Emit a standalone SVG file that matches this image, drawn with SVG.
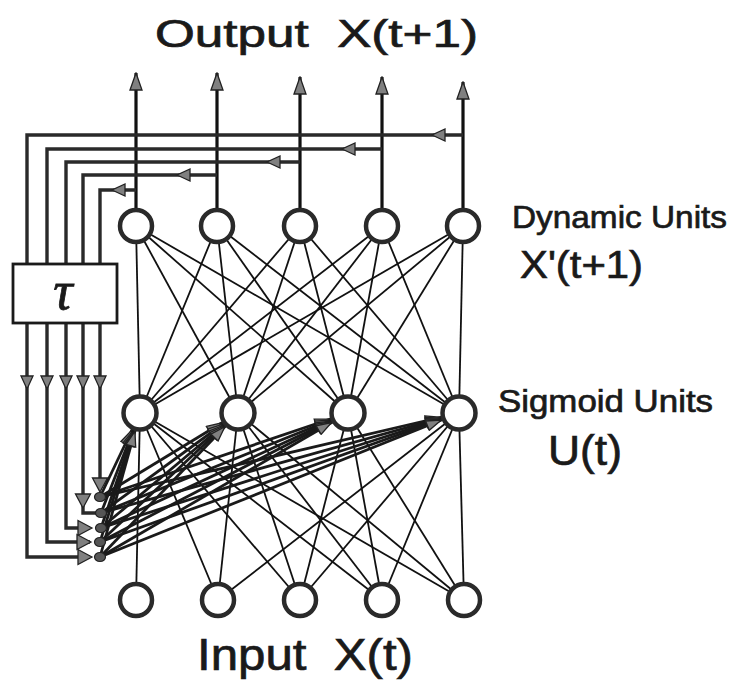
<svg xmlns="http://www.w3.org/2000/svg" xmlns:xlink="http://www.w3.org/1999/xlink" width="731" height="680" viewBox="0 0 731 680">
<style>
.thin{stroke:#111;stroke-width:1.8;fill:none}
.fb{stroke:#2a2a2a;stroke-width:3.4;fill:none;stroke-linejoin:miter}
.out{stroke:#111;stroke-width:3.2;fill:none}
.thick{stroke:#1a1a1a;stroke-width:2.8;fill:none}
.node{fill:#fff;stroke:#2a2a2a;stroke-width:4.5}
.dot{fill:#555;stroke:#222;stroke-width:1.2}
.ah{fill:#808080;stroke:#222;stroke-width:1.3;stroke-linejoin:miter}
.lbl{font-family:"Liberation Sans",Arial,sans-serif;fill:#1a1a1a;stroke:#1a1a1a;stroke-width:0.7}
</style>
<defs>
<marker id="mOut" markerUnits="userSpaceOnUse" markerWidth="19" markerHeight="14" refX="18" refY="7" orient="auto">
<path class="ah" d="M1,1 L18,7 L1,13 z"/>
</marker>
<marker id="mIn" markerUnits="userSpaceOnUse" markerWidth="17" markerHeight="12" refX="35" refY="6" orient="auto">
<path class="ah" d="M1,1 L16,6 L1,11 z"/>
</marker>
<path id="fa" class="ah" d="M0,0 L-13,-6 L-13,6 z"/>
<path id="fa2" class="ah" d="M0,0 L-14,-7.5 L-14,7.5 z"/>
</defs>

<g id="connectors">
<g id="dyn-sig">
<line class="thin" x1="136" y1="226" x2="140" y2="413"/><line class="thin" x1="136" y1="226" x2="238" y2="413"/><line class="thin" x1="136" y1="226" x2="348" y2="413"/><line class="thin" x1="136" y1="226" x2="459" y2="413"/>
<line class="thin" x1="217" y1="226" x2="140" y2="413"/><line class="thin" x1="217" y1="226" x2="238" y2="413"/><line class="thin" x1="217" y1="226" x2="348" y2="413"/><line class="thin" x1="217" y1="226" x2="459" y2="413"/>
<line class="thin" x1="300" y1="226" x2="140" y2="413"/><line class="thin" x1="300" y1="226" x2="238" y2="413"/><line class="thin" x1="300" y1="226" x2="348" y2="413"/><line class="thin" x1="300" y1="226" x2="459" y2="413"/>
<line class="thin" x1="382" y1="226" x2="140" y2="413"/><line class="thin" x1="382" y1="226" x2="238" y2="413"/><line class="thin" x1="382" y1="226" x2="348" y2="413"/><line class="thin" x1="382" y1="226" x2="459" y2="413"/>
<line class="thin" x1="463" y1="226" x2="140" y2="413"/><line class="thin" x1="463" y1="226" x2="238" y2="413"/><line class="thin" x1="463" y1="226" x2="348" y2="413"/><line class="thin" x1="463" y1="226" x2="459" y2="413"/>
</g>
<g id="in-sig">
<line class="thin" x1="136" y1="600" x2="140" y2="413"/>
<line class="thin" x1="218" y1="600" x2="140" y2="413"/><line class="thin" x1="218" y1="600" x2="238" y2="413"/><line class="thin" x1="218" y1="600" x2="459" y2="413"/>
<line class="thin" x1="300" y1="600" x2="140" y2="413"/><line class="thin" x1="300" y1="600" x2="238" y2="413"/><line class="thin" x1="300" y1="600" x2="348" y2="413"/><line class="thin" x1="300" y1="600" x2="459" y2="413"/>
<line class="thin" x1="382" y1="600" x2="140" y2="413"/><line class="thin" x1="382" y1="600" x2="238" y2="413"/><line class="thin" x1="382" y1="600" x2="348" y2="413"/><line class="thin" x1="382" y1="600" x2="459" y2="413"/>
<line class="thin" x1="464" y1="600" x2="140" y2="413"/><line class="thin" x1="464" y1="600" x2="238" y2="413"/><line class="thin" x1="464" y1="600" x2="348" y2="413"/><line class="thin" x1="464" y1="600" x2="459" y2="413"/>
</g>
<g id="outputs">
<line class="out" x1="136" y1="210" x2="136" y2="73" marker-end="url(#mOut)"/>
<line class="out" x1="217" y1="210" x2="217" y2="73" marker-end="url(#mOut)"/>
<line class="out" x1="300" y1="210" x2="300" y2="77" marker-end="url(#mOut)"/>
<line class="out" x1="382" y1="210" x2="382" y2="77" marker-end="url(#mOut)"/>
<line class="out" x1="463" y1="210" x2="463" y2="82" marker-end="url(#mOut)"/>
</g>
<g id="feedback">
<path class="fb" d="M463,135 H27 V557 H90"/>
<path class="fb" d="M382,149 H47 V542 H90"/>
<path class="fb" d="M300,162 H66 V528 H90"/>
<path class="fb" d="M217,175 H83 V513 H96"/>
<path class="fb" d="M136,190 H100 V490"/>
<use xlink:href="#fa" href="#fa" transform="translate(432,135) rotate(180)"/>
<use xlink:href="#fa" href="#fa" transform="translate(342,149) rotate(180)"/>
<use xlink:href="#fa" href="#fa" transform="translate(267,162) rotate(180)"/>
<use xlink:href="#fa" href="#fa" transform="translate(177,175) rotate(180)"/>
<use xlink:href="#fa" href="#fa" transform="translate(112,190) rotate(180)"/>
<use xlink:href="#fa" href="#fa" transform="translate(27,389) rotate(90)"/>
<use xlink:href="#fa" href="#fa" transform="translate(47,389) rotate(90)"/>
<use xlink:href="#fa" href="#fa" transform="translate(66,389) rotate(90)"/>
<use xlink:href="#fa" href="#fa" transform="translate(83,389) rotate(90)"/>
<use xlink:href="#fa" href="#fa" transform="translate(100,389) rotate(90)"/>
<use xlink:href="#fa2" href="#fa2" transform="translate(100,492) rotate(90)"/>
<use xlink:href="#fa2" href="#fa2" transform="translate(83,508) rotate(90)"/>
<use xlink:href="#fa2" href="#fa2" transform="translate(92,528)"/>
<use xlink:href="#fa2" href="#fa2" transform="translate(91,542)"/>
<use xlink:href="#fa2" href="#fa2" transform="translate(92,557)"/>
</g>
<g id="ctx-sig">
<line class="thick" x1="100" y1="497" x2="140" y2="413" marker-end="url(#mIn)"/><line class="thick" x1="100" y1="497" x2="238" y2="413" marker-end="url(#mIn)"/><line class="thick" x1="100" y1="497" x2="348" y2="413" marker-end="url(#mIn)"/><line class="thick" x1="100" y1="497" x2="459" y2="413" marker-end="url(#mIn)"/>
<line class="thick" x1="101" y1="513" x2="140" y2="413" marker-end="url(#mIn)"/><line class="thick" x1="101" y1="513" x2="238" y2="413" marker-end="url(#mIn)"/><line class="thick" x1="101" y1="513" x2="348" y2="413" marker-end="url(#mIn)"/><line class="thick" x1="101" y1="513" x2="459" y2="413" marker-end="url(#mIn)"/>
<line class="thick" x1="101" y1="528" x2="140" y2="413" marker-end="url(#mIn)"/><line class="thick" x1="101" y1="528" x2="238" y2="413" marker-end="url(#mIn)"/><line class="thick" x1="101" y1="528" x2="348" y2="413" marker-end="url(#mIn)"/><line class="thick" x1="101" y1="528" x2="459" y2="413" marker-end="url(#mIn)"/>
<line class="thick" x1="100" y1="542" x2="140" y2="413" marker-end="url(#mIn)"/><line class="thick" x1="100" y1="542" x2="238" y2="413" marker-end="url(#mIn)"/><line class="thick" x1="100" y1="542" x2="348" y2="413" marker-end="url(#mIn)"/><line class="thick" x1="100" y1="542" x2="459" y2="413" marker-end="url(#mIn)"/>
<line class="thick" x1="100" y1="557" x2="140" y2="413" marker-end="url(#mIn)"/><line class="thick" x1="100" y1="557" x2="238" y2="413" marker-end="url(#mIn)"/><line class="thick" x1="100" y1="557" x2="348" y2="413" marker-end="url(#mIn)"/><line class="thick" x1="100" y1="557" x2="459" y2="413" marker-end="url(#mIn)"/>
</g>
</g>

<g id="tau">
<rect x="13" y="264" width="104" height="59" fill="#fff" stroke="#1a1a1a" stroke-width="2.8"/>
<text x="63" y="309" text-anchor="middle" font-family="'Liberation Serif','DejaVu Serif',serif" font-style="italic" font-size="54" fill="#1a1a1a" stroke="#1a1a1a" stroke-width="0.8">τ</text>
</g>

<g id="context-dots">
<ellipse class="dot" cx="100" cy="497" rx="5.5" ry="4.5"/>
<ellipse class="dot" cx="101" cy="513" rx="5.5" ry="4.5"/>
<ellipse class="dot" cx="101" cy="528" rx="5.5" ry="4.5"/>
<ellipse class="dot" cx="100" cy="542" rx="5.5" ry="4.5"/>
<ellipse class="dot" cx="100" cy="557" rx="5.5" ry="4.5"/>
</g>

<g id="dynamic-units">
<g id="D1"><circle class="node" cx="136" cy="226" r="16"/></g>
<g id="D2"><circle class="node" cx="217" cy="226" r="16"/></g>
<g id="D3"><circle class="node" cx="300" cy="226" r="16"/></g>
<g id="D4"><circle class="node" cx="382" cy="226" r="16"/></g>
<g id="D5"><circle class="node" cx="463" cy="226" r="16"/></g>
</g>
<g id="sigmoid-units">
<g id="S1"><circle class="node" cx="140" cy="413" r="16.5"/></g>
<g id="S2"><circle class="node" cx="238" cy="413" r="16.5"/></g>
<g id="S3"><circle class="node" cx="348" cy="413" r="16.5"/></g>
<g id="S4"><circle class="node" cx="459" cy="413" r="16.5"/></g>
</g>
<g id="input-units">
<g id="I1"><circle class="node" cx="136" cy="600" r="16"/></g>
<g id="I2"><circle class="node" cx="218" cy="600" r="16"/></g>
<g id="I3"><circle class="node" cx="300" cy="600" r="16"/></g>
<g id="I4"><circle class="node" cx="382" cy="600" r="16"/></g>
<g id="I5"><circle class="node" cx="464" cy="600" r="16"/></g>
</g>

<g id="labels">
<text class="lbl" x="155" y="47" font-size="38" textLength="323" lengthAdjust="spacingAndGlyphs" xml:space="preserve">Output  X(t+1)</text>
<text class="lbl" x="512" y="228" font-size="32" textLength="215" lengthAdjust="spacingAndGlyphs">Dynamic Units</text>
<text class="lbl" x="520" y="278" font-size="39" textLength="123" lengthAdjust="spacingAndGlyphs">X'(t+1)</text>
<text class="lbl" x="498" y="412" font-size="31" textLength="215" lengthAdjust="spacingAndGlyphs">Sigmoid Units</text>
<text class="lbl" x="548" y="465" font-size="42" textLength="74" lengthAdjust="spacingAndGlyphs">U(t)</text>
<text class="lbl" x="197" y="670" font-size="44" textLength="216" lengthAdjust="spacingAndGlyphs" xml:space="preserve">Input  X(t)</text>
</g>
</svg>
